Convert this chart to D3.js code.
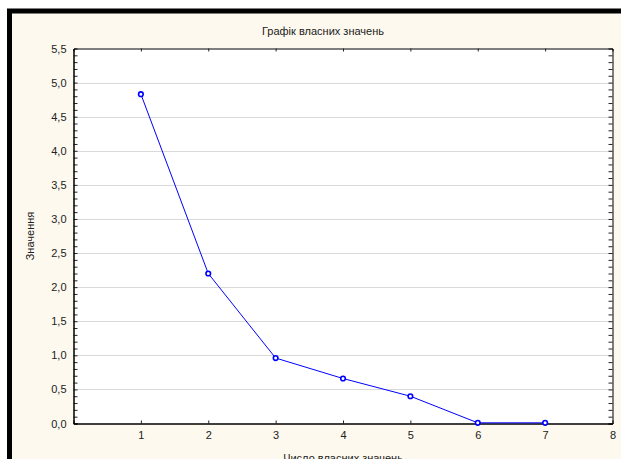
<!DOCTYPE html>
<meta charset="utf-8">
<style>
  body { margin: 0; background: #fff; }
  svg { display: block; font-family: "Liberation Sans", Arial, sans-serif; }
  .grid line { stroke: #d9d9d9; }
</style>
<svg width="621" height="459"></svg>
<script src="https://d3js.org/d3.v7.min.js"></script>
<script>

// eigenvalues (scree plot)
var numbers = [1, 2, 3, 4, 5, 6, 7];
var eigen = [4.83, 2.20, 0.96, 0.66, 0.40, 0.01, 0.01];
var yTicks = [0, 0.5, 1, 1.5, 2, 2.5, 3, 3.5, 4, 4.5, 5, 5.5];
var xTicks = [1, 2, 3, 4, 5, 6, 7, 8];

var svg = d3.select("svg");
var pLeft = 73.5, pRight = 612.5, pTop = 48.5, pBottom = 423.5;

// frame
svg.append("rect")
    .attr("x", 9.5).attr("y", 11)
    .attr("width", 700).attr("height", 600)
    .attr("fill", "#fdf9ee")
    .attr("stroke", "#000").attr("stroke-width", 5);

var x = d3.scaleLinear().domain([0, 8]).range([pLeft, pRight]);
var y = d3.scaleLinear().domain([0, 5.5]).range([pBottom, pTop]);

svg.append("rect")
    .attr("x", pLeft).attr("y", pTop)
    .attr("width", pRight - pLeft).attr("height", pBottom - pTop)
    .attr("fill", "#fff");

// horizontal grid
svg.append("g")
    .attr("class", "grid")
  .selectAll("line")
  .data(yTicks.slice(1, -1))
  .enter().append("line")
    .attr("x1", pLeft).attr("x2", pRight)
    .attr("y1", function(d) { return Math.round(y(d)) + 0.5; })
    .attr("y2", function(d) { return Math.round(y(d)) + 0.5; });

var fmt = function(d) { return d3.format(".1f")(d).replace(".", ","); };
var minor = d3.range(0, 55).map(function(i) { return i / 10; });

// left axis
var gl = svg.append("g").attr("transform", "translate(" + pLeft + ",0)");
gl.call(d3.axisRight(y).tickValues(minor).tickSize(4).tickFormat(""));
gl.append("g").call(d3.axisLeft(y).tickValues(yTicks).tickSize(0).tickPadding(7).tickFormat(fmt));

// right axis
var gr = svg.append("g").attr("transform", "translate(" + pRight + ",0)");
gr.call(d3.axisLeft(y).tickValues(minor).tickSize(4).tickFormat(""));

// bottom axis
var gb = svg.append("g").attr("transform", "translate(0," + pBottom + ")");
gb.call(d3.axisTop(x).tickValues(xTicks.slice(0, -1)).tickSize(3).tickFormat(""));
gb.append("g").call(d3.axisBottom(x).tickValues(xTicks).tickSize(0).tickPadding(8));

// top axis
var gt = svg.append("g").attr("transform", "translate(0," + pTop + ")");
gt.call(d3.axisBottom(x).tickValues(xTicks.slice(0, -1)).tickSize(3).tickFormat(""));

svg.selectAll(".domain").attr("stroke", "#000");
svg.selectAll(".tick text").attr("font-size", 11).attr("fill", "#222").attr("font-family", "Liberation Sans, Arial, sans-serif");
svg.selectAll(".tick line").attr("stroke", "#222");

// line + markers
svg.append("path")
    .datum(numbers)
    .attr("fill", "none")
    .attr("stroke", "#0000ff")
    .attr("stroke-width", 1)
    .attr("d", d3.line()
        .x(function(d) { return x(d); })
        .y(function(d, i) { return y(eigen[i]); }));

svg.selectAll(".pt")
  .data(numbers)
  .enter().append("circle")
    .attr("class", "pt")
    .attr("cx", function(d) { return x(d); })
    .attr("cy", function(d, i) { return y(eigen[i]); })
    .attr("r", 2.3)
    .attr("fill", "#fff")
    .attr("stroke", "#0000ff")
    .attr("stroke-width", 1.6);

// titles
svg.append("text")
    .attr("x", 323).attr("y", 35)
    .attr("text-anchor", "middle")
    .attr("font-size", 11).attr("fill", "#222")
    .text("Графік власних значень");

svg.append("text")
    .attr("transform", "translate(34," + (pTop + pBottom) / 2 + ") rotate(-90)")
    .attr("text-anchor", "middle")
    .attr("font-size", 11).attr("fill", "#222")
    .text("Значення");

svg.append("text")
    .attr("x", (pLeft + pRight) / 2).attr("y", 462)
    .attr("text-anchor", "middle")
    .attr("font-size", 11).attr("fill", "#222")
    .text("Число власних значень");

</script>
